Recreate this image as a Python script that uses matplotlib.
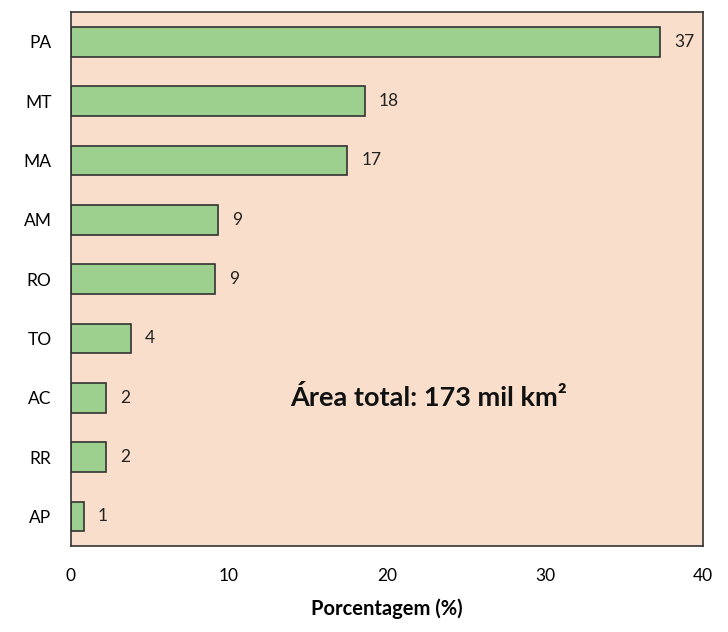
import matplotlib.pyplot as plt

# states ordered top to bottom
states = ['PA', 'MT', 'MA', 'AM', 'RO', 'TO', 'AC', 'RR', 'AP']
pct = [37.3, 18.6, 17.5, 9.3, 9.1, 3.8, 2.2, 2.2, 0.8]
pct_labels = ['37', '18', '17', '9', '9', '4', '2', '2', '1']
xticks = [0, 10, 20, 30, 40]

plt.rcParams['font.family'] = ['Lato', 'DejaVu Sans']

fig = plt.figure(figsize=(7.28, 6.32), dpi=100)
ax = fig.add_axes([0.0975, 0.136, 0.868, 0.845])
ax.set_facecolor('#F9DECC')

ypos = list(range(len(states)))
ax.barh(ypos, pct, height=0.5, color='#9DD08F', edgecolor='#333333', linewidth=1.2)

for y, v, lab in zip(ypos, pct, pct_labels):
    ax.text(v + 0.9, y, lab, va='center', ha='left', fontsize=12.5, color='#222222')

ax.text(13.9, 6, 'Área total: 173 mil km²', va='center', ha='left',
        fontsize=19.5, fontweight='bold', color='#111111')

ax.set_xlim(0, 40)
ax.set_ylim(len(states) - 0.5, -0.5)
ax.set_yticks(ypos)
ax.set_yticklabels(states, fontsize=12.5)
ax.set_xticks(xticks)
ax.set_xticklabels([str(t) for t in xticks], fontsize=12.5)
ax.tick_params(length=0, pad=14)
ax.tick_params(axis='x', pad=16)
for s in ax.spines.values():
    s.set_color('#333333')
    s.set_linewidth(1.2)

ax.set_xlabel('Porcentagem (%)', fontsize=14.5, fontweight='bold', labelpad=10)

fig.savefig('out.png', dpi=100)
